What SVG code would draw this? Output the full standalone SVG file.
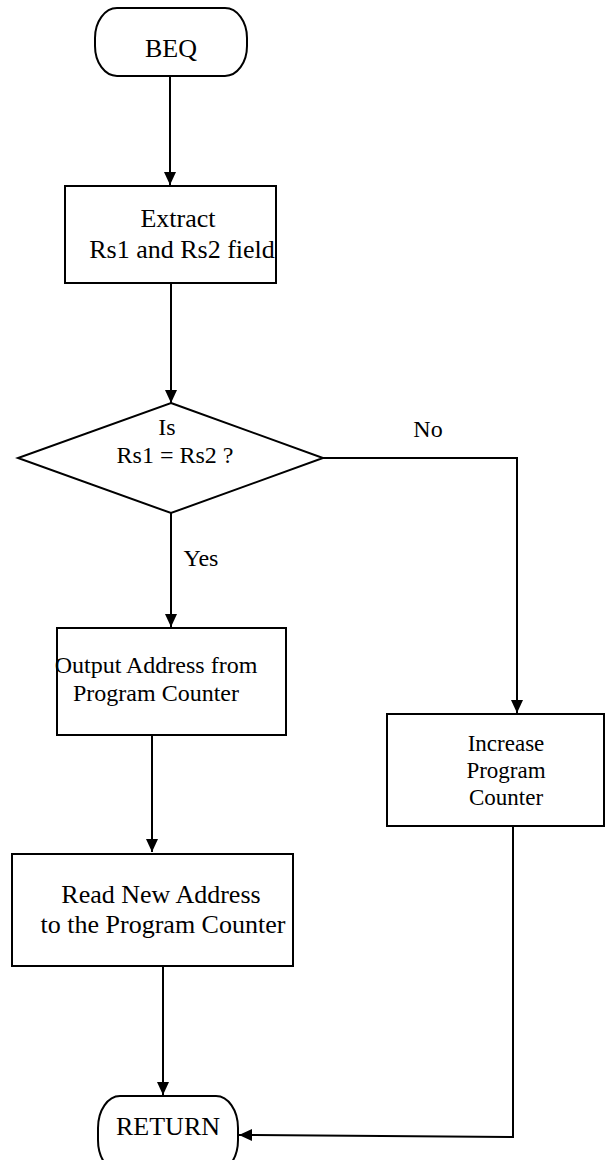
<svg xmlns="http://www.w3.org/2000/svg" width="605" height="1160" viewBox="0 0 605 1160">
<style>
.s{fill:#fff;stroke:#000;stroke-width:2}
.t{font-family:'Liberation Serif','Times New Roman',Tinos,Times,'DejaVu Serif',serif;fill:#000;text-anchor:middle}
.c{fill:none;stroke:#000;stroke-width:2}
</style>
<defs>
<marker id="ah" markerWidth="14" markerHeight="14" refX="13" refY="7" orient="auto" markerUnits="userSpaceOnUse">
<path d="M0,1 L13,7 L0,13 Z" fill="#000"/>
</marker>
</defs>
<rect width="605" height="1160" fill="#fff"/>
<g id="connectors">
<path class="c" d="M170,77 V185" marker-end="url(#ah)"/>
<path class="c" d="M171,283 V403" marker-end="url(#ah)"/>
<path class="c" d="M323,458 H517 V713" marker-end="url(#ah)"/>
<path class="c" d="M171,513 V627" marker-end="url(#ah)"/>
<path class="c" d="M152,735 V852" marker-end="url(#ah)"/>
<path class="c" d="M163,966 V1095" marker-end="url(#ah)"/>
<path class="c" d="M513,826 V1137 L239,1135" marker-end="url(#ah)"/>
</g>
<g id="beq">
<rect class="s" x="95" y="8" width="152" height="68" rx="22" ry="30"/>
<text class="t" x="171" y="57" font-size="26">BEQ</text>
</g>
<g id="extract">
<rect class="s" x="65" y="186" width="211" height="97"/>
<text class="t" x="178" y="227" font-size="26">Extract</text>
<text class="t" x="182" y="258" font-size="26">Rs1 and Rs2 field</text>
</g>
<g id="decision">
<polygon class="s" points="171,403 323,458 171,513 18,458"/>
<text class="t" x="167" y="435" font-size="24">Is</text>
<text class="t" x="175" y="463" font-size="24">Rs1 = Rs2 ?</text>
</g>
<g id="labels">
<text class="t" x="428" y="437" font-size="24">No</text>
<text class="t" x="201" y="566" font-size="24">Yes</text>
</g>
<g id="output">
<rect class="s" x="57" y="628" width="229" height="107"/>
<text class="t" x="156" y="673" font-size="24">Output Address from</text>
<text class="t" x="156" y="701" font-size="24">Program Counter</text>
</g>
<g id="increase">
<rect class="s" x="387" y="714" width="217" height="112"/>
<text class="t" x="506" y="751" font-size="23">Increase</text>
<text class="t" x="506" y="778" font-size="23">Program</text>
<text class="t" x="506" y="805" font-size="23">Counter</text>
</g>
<g id="read">
<rect class="s" x="12" y="854" width="281" height="112"/>
<text class="t" x="161" y="903" font-size="26">Read New Address</text>
<text class="t" x="163" y="933" font-size="26">to the Program Counter</text>
</g>
<g id="return">
<rect class="s" x="98" y="1096" width="140" height="76" rx="22" ry="32"/>
<text class="t" x="168" y="1135" font-size="26">RETURN</text>
</g>
</svg>
